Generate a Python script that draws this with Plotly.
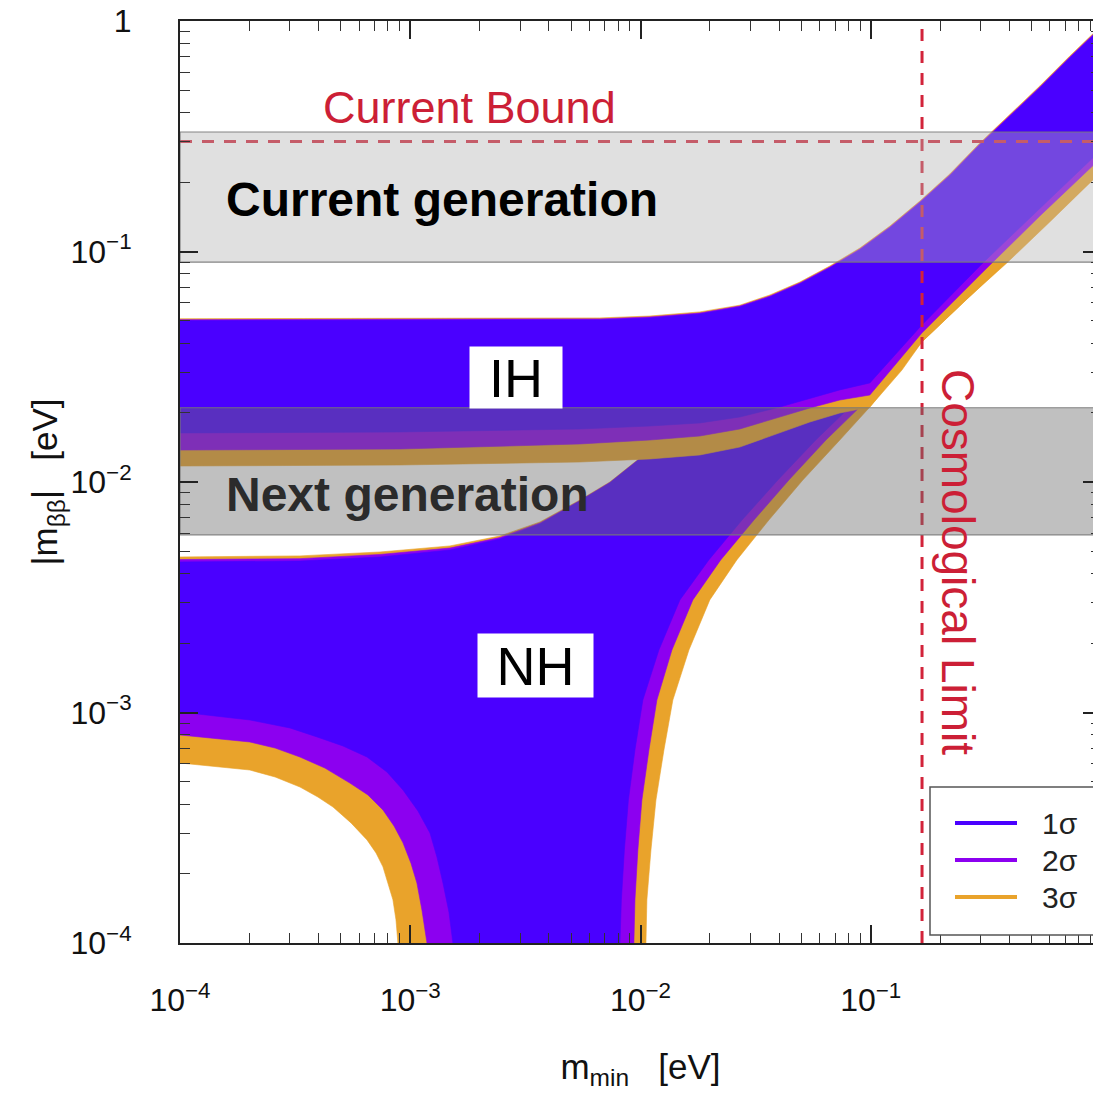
import plotly.graph_objects as go

# ---------------- data (all in eV) ----------------
# Normal hierarchy: upper boundary (shared x grid), per confidence level
nh_up_x = [1e-4, 3.32e-4, 7.39e-4, 1.487e-3, 2.45e-3, 3.66e-3, 5.46e-3, 7.36e-3,
           9.94e-3, 1.483e-2, 3.30e-2, 8.97e-2, 0.2437, 1.0]
nh_up_y_1s = [4.50e-3, 4.54e-3, 4.73e-3, 5.07e-3, 5.66e-3, 6.57e-3, 8.27e-3, 9.90e-3,
              1.26e-2, 1.65e-2, 2.77e-2, 5.05e-2, 0.1015, 0.372]
nh_up_y_2s = [4.61e-3, 4.65e-3, 4.85e-3, 5.17e-3, 5.74e-3, 6.64e-3, 8.31e-3, 9.95e-3,
              1.265e-2, 1.65e-2, 2.77e-2, 5.05e-2, 0.1015, 0.372]
nh_up_y_3s = [4.73e-3, 4.78e-3, 4.97e-3, 5.28e-3, 5.83e-3, 6.71e-3, 8.36e-3, 1.00e-2,
              1.27e-2, 1.65e-2, 2.77e-2, 5.05e-2, 0.1015, 0.372]

# Normal hierarchy: lower boundary, left branch (from m_min = 1e-4 down to the axis)
nh_lo_left_x_1s = [1e-4, 2.01e-4, 3.00e-4, 3.94e-4, 5.10e-4, 6.49e-4, 7.92e-4, 9.30e-4,
                   1.080e-3, 1.218e-3, 1.306e-3, 1.387e-3, 1.473e-3, 1.532e-3]
nh_lo_left_y_1s = [1.005e-3, 9.28e-4, 8.57e-4, 7.83e-4, 7.16e-4, 6.41e-4, 5.52e-4, 4.61e-4,
                   3.74e-4, 3.00e-4, 2.36e-4, 1.82e-4, 1.36e-4, 1.0e-4]
nh_lo_left_x_2s = [1e-4, 2.01e-4, 2.59e-4, 3.32e-4, 4.26e-4, 5.47e-4, 6.55e-4, 7.61e-4,
                   8.50e-4, 9.30e-4, 1.007e-3, 1.069e-3, 1.124e-3, 1.182e-3]
nh_lo_left_y_2s = [7.99e-4, 7.45e-4, 7.01e-4, 6.41e-4, 5.74e-4, 4.94e-4, 4.39e-4, 3.78e-4,
                   3.22e-4, 2.72e-4, 2.22e-4, 1.82e-4, 1.39e-4, 1.0e-4]
nh_lo_left_x_3s = [1e-4, 2.01e-4, 2.59e-4, 3.32e-4, 3.97e-4, 4.62e-4, 5.53e-4, 6.49e-4,
                   7.10e-4, 7.61e-4, 8.41e-4, 8.67e-4, 8.84e-4]
nh_lo_left_y_3s = [6.04e-4, 5.63e-4, 5.25e-4, 4.75e-4, 4.30e-4, 3.89e-4, 3.32e-4, 2.80e-4,
                   2.46e-4, 2.14e-4, 1.54e-4, 1.26e-4, 1.0e-4]

# Normal hierarchy: lower boundary, right branch (from the axis up to m_min = 1)
nh_lo_right_y = [1.0e-4, 1.54e-4, 2.53e-4, 4.17e-4, 6.88e-4, 1.133e-3, 1.867e-3, 3.08e-3,
                 4.59e-3, 6.84e-3, 1.020e-2, 1.521e-2, 2.115e-2, 3.06e-2, 4.05e-2,
                 6.16e-2, 8.92e-2, 0.137, 0.1943]
nh_lo_right_x_1s = [8.14e-3, 8.26e-3, 8.51e-3, 8.86e-3, 9.46e-3, 1.024e-2, 1.202e-2, 1.483e-2,
                    1.98e-2, 2.76e-2, 3.95e-2, 5.77e-2, 8.12e-2, 0.1106, 0.1406,
                    0.2119, 0.3068, 0.4811, 0.6893, 1.0]
nh_lo_right_x_2s = [9.36e-3, 9.46e-3, 9.74e-3, 1.014e-2, 1.088e-2, 1.178e-2, 1.369e-2, 1.688e-2,
                    2.23e-2, 3.11e-2, 4.41e-2, 6.39e-2, 8.97e-2, 0.1211, 0.1523,
                    0.2296, 0.3356, 0.5212, 0.7468, 1.0]
nh_lo_right_x_3s = [1.056e-2, 1.066e-2, 1.110e-2, 1.167e-2, 1.264e-2, 1.382e-2, 1.623e-2, 2.00e-2,
                    2.62e-2, 3.61e-2, 5.07e-2, 7.34e-2, 9.91e-2, 0.1366, 0.1667,
                    0.2588, 0.390, 0.6113, 1.0]
nh_lo_right_end_y = [0.2756, 0.2544, 0.2213]   # value at m_min = 1 for 1σ, 2σ, 3σ

# Inverted hierarchy: upper boundary
ih_up_x = [1e-4, 9.02e-4, 6.66e-3, 1.099e-2, 1.81e-2, 2.70e-2, 3.65e-2, 4.92e-2, 6.64e-2,
           8.97e-2, 0.1211, 0.1634, 0.2205, 0.2977, 0.4018, 0.5424, 0.7321, 1.0]
ih_up_y_1s = [0.0501, 0.0502, 0.0505, 0.0515, 0.0536, 0.0574, 0.0635, 0.0723, 0.0848,
              0.1015, 0.1264, 0.1623, 0.2126, 0.2897, 0.3832, 0.5121, 0.6909, 0.9324]
ih_up_y_2s = [0.0506, 0.0507, 0.0510, 0.0520, 0.0541, 0.0580, 0.0641, 0.0730, 0.0856,
              0.1025, 0.1277, 0.1639, 0.2147, 0.2926, 0.3870, 0.5172, 0.6978, 0.9417]
ih_up_y_3s = [0.0511, 0.0512, 0.0515, 0.0525, 0.0547, 0.0585, 0.0648, 0.0737, 0.0865,
              0.1035, 0.1289, 0.1655, 0.2169, 0.2955, 0.3909, 0.5223, 0.7047, 0.9510]

# Inverted hierarchy: lower boundary
ih_lo_x = [1e-4, 9.02e-4, 5.46e-3, 1.099e-2, 1.81e-2, 2.70e-2, 4.03e-2, 5.44e-2, 7.34e-2,
           9.91e-2, 0.1667, 0.3068, 0.5424, 1.0]
ih_lo_y_1s = [1.632e-2, 1.648e-2, 1.698e-2, 1.749e-2, 1.803e-2, 1.914e-2, 2.115e-2, 2.31e-2,
              2.51e-2, 2.69e-2, 4.80e-2, 8.92e-2, 0.1544, 0.2756]
ih_lo_y_2s = [1.376e-2, 1.390e-2, 1.462e-2, 1.521e-2, 1.583e-2, 1.698e-2, 1.914e-2, 2.094e-2,
              2.268e-2, 2.384e-2, 4.43e-2, 8.15e-2, 0.1426, 0.2544]
ih_lo_y_3s = [1.173e-2, 1.185e-2, 1.221e-2, 1.259e-2, 1.310e-2, 1.418e-2, 1.632e-2, 1.821e-2,
              1.992e-2, 2.115e-2, 4.05e-2, 7.16e-2, 0.1240, 0.2213]

# Experimental sensitivity bands and limits
current_gen = [0.090, 0.330]
next_gen = [0.0059, 0.021]
current_bound = 0.30
cosmo_limit = 0.167
x_range = [1e-4, 1.0]
y_range = [1e-4, 1.0]

tick_vals = [1e-4, 1e-3, 1e-2, 1e-1, 1]
tick_text = ["10<sup>−4</sup>", "10<sup>−3</sup>", "10<sup>−2</sup>", "10<sup>−1</sup>", "1"]

sigma_labels = ["1σ", "2σ", "3σ"]
sigma_colors = ["#4a00ff", "#8c00f0", "#e9a32b"]

FONT = "Liberation Sans, Arial, Helvetica, sans-serif"
RED = "#cc1f36"

fig = go.Figure()


def add_poly(xs, ys, color):
    fig.add_trace(go.Scatter(
        x=xs, y=ys, mode="lines", fill="toself", fillcolor=color,
        line=dict(color=color, width=0.6), hoverinfo="skip", showlegend=False))


nh_sets = [
    (nh_up_y_3s, nh_lo_left_x_3s, nh_lo_left_y_3s, nh_lo_right_x_3s, 2),
    (nh_up_y_2s, nh_lo_left_x_2s, nh_lo_left_y_2s, nh_lo_right_x_2s, 1),
    (nh_up_y_1s, nh_lo_left_x_1s, nh_lo_left_y_1s, nh_lo_right_x_1s, 0),
]
for up_y, lx, ly, rx, k in nh_sets:
    ry = nh_lo_right_y[:len(rx) - 1] + [nh_lo_right_end_y[k]]
    xs = nh_up_x + rx[::-1] + lx[::-1]
    ys = up_y + ry[::-1] + ly[::-1]
    add_poly(xs, ys, sigma_colors[k])

ih_sets = [
    (ih_up_y_3s, ih_lo_y_3s, sigma_colors[2]),
    (ih_up_y_2s, ih_lo_y_2s, sigma_colors[1]),
    (ih_up_y_1s, ih_lo_y_1s, sigma_colors[0]),
]
for up_y, lo_y, col in ih_sets:
    add_poly(ih_up_x + ih_lo_x[::-1], up_y + lo_y[::-1], col)

# dashed limits
fig.add_trace(go.Scatter(x=x_range, y=[current_bound, current_bound], mode="lines",
                         line=dict(color="#d2233a", width=3, dash="12px,10px"),
                         hoverinfo="skip", showlegend=False))
fig.add_trace(go.Scatter(x=[cosmo_limit, cosmo_limit], y=y_range, mode="lines",
                         line=dict(color="#d2233a", width=3, dash="12px,10px"),
                         hoverinfo="skip", showlegend=False))

# sensitivity bands (semi-transparent, above the regions)
for (lo, hi), fc in [(current_gen, "rgba(178,178,178,0.40)"),
                     (next_gen, "rgba(108,108,108,0.43)")]:
    fig.add_trace(go.Scatter(
        x=[x_range[0], x_range[1], x_range[1], x_range[0], x_range[0]],
        y=[lo, lo, hi, hi, lo], mode="lines", fill="toself", fillcolor=fc,
        line=dict(color="rgba(120,120,120,0.9)", width=1.2),
        hoverinfo="skip", showlegend=False))

axis_common = dict(
    type="log", tickmode="array", tickvals=tick_vals, ticktext=tick_text,
    ticklabeloverflow="allow",
    showgrid=False, zeroline=False,
    ticks="inside", ticklen=18, tickwidth=1.6, tickcolor="#222",
    mirror="allticks", showline=True, linecolor="#222", linewidth=2,
    tickfont=dict(family=FONT, size=32, color="#111"),
    minor=dict(ticks="inside", ticklen=10, tickwidth=1.2, tickcolor="#333",
               dtick="D1", showgrid=False),
)

# page body has an 8px margin: shift the figure so the plot area lands at 180..1101 / 21..943
fig.update_layout(
    width=1093, height=1086,
    margin=dict(l=172, r=0, t=13, b=151, autoexpand=False),
    paper_bgcolor="white", plot_bgcolor="white",
    showlegend=False,
    font=dict(family=FONT),
    xaxis=dict(range=[-4, 0], ticklabelstandoff=28,
               title=dict(text="m<sub>min</sub>\u00a0\u00a0\u00a0[eV]",
                          font=dict(family=FONT, size=35, color="#111"), standoff=37),
               **axis_common),
    yaxis=dict(range=[-4, 0], ticklabelstandoff=40,
               title=dict(text="|m<sub>ββ</sub>|\u00a0\u00a0\u00a0[eV]",
                          font=dict(family=FONT, size=35, color="#111"), standoff=2),
               **axis_common),
)


def px2paper(px, py):
    return (px - 180) / 921.0, (943 - py) / 922.0


annotations = []


def add_text(px, py, text, size, color, **kw):
    x, y = px2paper(px, py)
    d = dict(x=x, y=y, xref="paper", yref="paper", text=text, showarrow=False,
             xanchor="center", yanchor="middle", font=dict(family=FONT, size=size, color=color))
    d.update(kw)
    annotations.append(d)


add_text(469, 107, "Current Bound", 45, RED)
add_text(224, 199, "<b>Current generation</b>", 48, "#000", xanchor="left")
add_text(224, 494, "<b>Next generation</b>", 48, "#2b2b2b", xanchor="left")
add_text(516, 377.5, "IH", 54, "#000", bgcolor="white", width=92, height=61, borderpad=0)
add_text(535.5, 665.5, "NH", 54, "#000", bgcolor="white", width=115, height=63, borderpad=0)
add_text(958, 562, "Cosmological Limit", 46, RED, textangle=90)

# legend box
shapes = []
lx0, ly0 = px2paper(930, 935)
lx1, ly1 = px2paper(1095, 787)
shapes.append(dict(type="rect", xref="paper", yref="paper", x0=lx0, y0=ly0, x1=lx1, y1=ly1,
                   fillcolor="white", line=dict(color="#555", width=1.5), layer="above"))
for i, (lab, col) in enumerate(zip(sigma_labels, sigma_colors)):
    row_py = 823 + 37 * i
    a0, b0 = px2paper(955, row_py)
    a1, _ = px2paper(1017, row_py)
    shapes.append(dict(type="line", xref="paper", yref="paper", x0=a0, y0=b0, x1=a1, y1=b0,
                       line=dict(color=col, width=4), layer="above"))
    add_text(1040, row_py, lab, 30, "#222", xanchor="left")

fig.update_layout(annotations=annotations, shapes=shapes)

fig.write_html("out.html")
